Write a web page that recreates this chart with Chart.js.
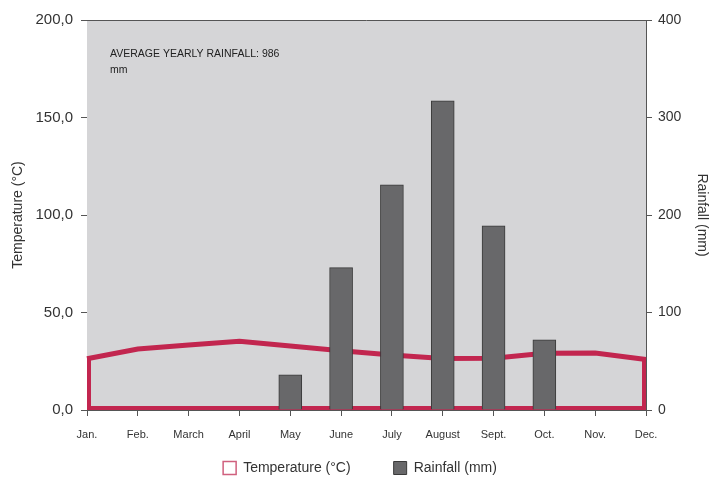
<!DOCTYPE html>
<html>
<head>
<meta charset="utf-8">
<script src="https://cdn.jsdelivr.net/npm/chart.js@4/dist/chart.umd.min.js"></script>
<style>
  html, body { margin: 0; padding: 0; background: #ffffff; }
  #wrap { width: 710px; height: 481px; position: relative; }
</style>
</head>
<body>
<div id="wrap"><canvas id="c" width="710" height="481"></canvas></div>
<script>
const months = ['Jan.', 'Feb.', 'March', 'April', 'May', 'June', 'July', 'August', 'Sept.', 'Oct.', 'Nov.', 'Dec.'];
const temperature = [26.3, 31.3, 33.3, 35.2, 32.8, 30.4, 28.2, 26.4, 26.5, 29.1, 29.2, 25.9];
const rainfall = [0, 0, 0, 0, 36, 146, 231, 317, 189, 72, 0, 0];
const tempTicks = [0, 50, 100, 150, 200];
const rainTicks = [0, 100, 200, 300, 400];
const annotationLines = ['AVERAGE YEARLY RAINFALL: 986', 'mm'];

const FONT = '"Liberation Sans", Arial, Helvetica, sans-serif';
const RED = '#c2264f';
const BAR = '#68686a';
const BAR_BORDER = '#3a3a3a';
const PLOT_BG = '#d5d5d7';
const AXIS = '#555555';
const TEXT = '#333333';

const plotPlugin = {
  id: 'plotDecor',
  afterLayout(chart) {
    // legend row sits lower (and slightly right) of the library default
    const lg = chart.legend;
    if (lg) {
      lg.top = 418;
      lg.bottom = chart.height;
      lg.height = lg.bottom - lg.top;
      lg.left += 5;
      lg.right += 5;
    }
  },
  beforeDatasetsDraw(chart) {
    const {ctx, chartArea: a} = chart;
    ctx.save();
    ctx.fillStyle = PLOT_BG;
    ctx.fillRect(a.left, a.top, a.right - a.left, a.bottom - a.top);
    ctx.strokeStyle = AXIS;
    ctx.lineWidth = 1;
    ctx.beginPath();
    ctx.moveTo(a.left, a.top + 0.5);
    ctx.lineTo(a.right, a.top + 0.5);
    ctx.stroke();
    const pts = chart.getDatasetMeta(0).data;
    const y0 = chart.scales.y.getPixelForValue(0);
    ctx.beginPath();
    ctx.rect(a.left, a.top, a.right - a.left, a.bottom - a.top);
    ctx.clip();
    ctx.strokeStyle = RED;
    ctx.lineWidth = 8;
    ctx.lineJoin = 'miter';
    ctx.beginPath();
    ctx.moveTo(pts[0].x, pts[0].y);
    ctx.lineTo(pts[0].x, y0);
    ctx.lineTo(pts[pts.length - 1].x, y0);
    ctx.lineTo(pts[pts.length - 1].x, pts[pts.length - 1].y);
    ctx.stroke();
    ctx.restore();
  },
  afterDatasetsDraw(chart) {
    const {ctx, chartArea: a} = chart;
    ctx.save();
    ctx.fillStyle = '#222';
    ctx.font = '10.5px ' + FONT;
    ctx.textBaseline = 'alphabetic';
    annotationLines.forEach((t, i) => ctx.fillText(t, a.left + 23, a.top + 37 + i * 15.5));
    ctx.restore();
  }
};

const legendStyles = [
  {fillStyle: '#ffffff', strokeStyle: '#d0607e', lineWidth: 1.5},
  {fillStyle: BAR, strokeStyle: BAR_BORDER, lineWidth: 1}
];

new Chart(document.getElementById('c'), {
  type: 'bar',
  data: {
    labels: months,
    datasets: [
      {
        type: 'line',
        label: 'Temperature (°C)',
        data: temperature,
        yAxisID: 'y',
        borderColor: RED,
        borderWidth: 5,
        backgroundColor: 'transparent',
        fill: false,
        pointRadius: 0,
        tension: 0,
        order: 2
      },
      {
        type: 'bar',
        label: 'Rainfall (mm)',
        data: rainfall,
        yAxisID: 'y1',
        backgroundColor: BAR,
        borderColor: BAR_BORDER,
        borderWidth: 1,
        borderSkipped: 'bottom',
        barThickness: 23,
        order: 1
      }
    ]
  },
  options: {
    responsive: false,
    animation: false,
    devicePixelRatio: 1,
    layout: { padding: { top: 20, left: 0, right: 0, bottom: 0 } },
    plugins: {
      tooltip: { enabled: false },
      legend: {
        position: 'bottom',
        maxHeight: 39,
        labels: {
          color: TEXT,
          font: { family: FONT, size: 14 },
          boxWidth: 13,
          boxHeight: 13,
          padding: 43,
          generateLabels: (chart) => chart.data.datasets.map((ds, i) => ({
            text: ds.label,
            fillStyle: legendStyles[i].fillStyle,
            strokeStyle: legendStyles[i].strokeStyle,
            lineWidth: legendStyles[i].lineWidth,
            fontColor: TEXT,
            hidden: false,
            datasetIndex: i
          }))
        }
      }
    },
    scales: {
      x: {
        type: 'category',
        offset: false,
        grid: { offset: false, drawOnChartArea: false, drawTicks: true, tickLength: 6, color: AXIS },
        border: { display: true, color: AXIS, width: 1 },
        ticks: { color: TEXT, font: { family: FONT, size: 11 }, padding: 12, maxRotation: 0, autoSkip: false },
        afterFit: (s) => { s.height = 32; }
      },
      y: {
        position: 'left',
        min: 0, max: 200,
        afterBuildTicks: (s) => { s.ticks = tempTicks.map(v => ({value: v})); },
        grid: { drawOnChartArea: false, drawTicks: true, tickLength: 6, color: AXIS },
        border: { display: true, color: AXIS, width: 1 },
        ticks: { color: TEXT, font: { family: FONT, size: 15 }, padding: 8,
                 callback: (v) => Number(v).toFixed(1).replace('.', ',') },
        title: { display: true, text: 'Temperature (°C)', color: TEXT, font: { family: FONT, size: 14 }, padding: { top: 10, bottom: 0 } },
        afterFit: (s) => { s.width = 87; }
      },
      y1: {
        position: 'right',
        min: 0, max: 400,
        afterBuildTicks: (s) => { s.ticks = rainTicks.map(v => ({value: v})); },
        grid: { drawOnChartArea: false, drawTicks: true, tickLength: 6, color: AXIS },
        border: { display: true, color: AXIS, width: 1 },
        ticks: { color: TEXT, font: { family: FONT, size: 14 }, padding: 6 },
        title: { display: true, text: 'Rainfall (mm)', color: TEXT, font: { family: FONT, size: 14 }, padding: { top: 0, bottom: 0 } },
        afterFit: (s) => { s.width = 64; }
      }
    }
  },
  plugins: [plotPlugin]
});
</script>
</body>
</html>
